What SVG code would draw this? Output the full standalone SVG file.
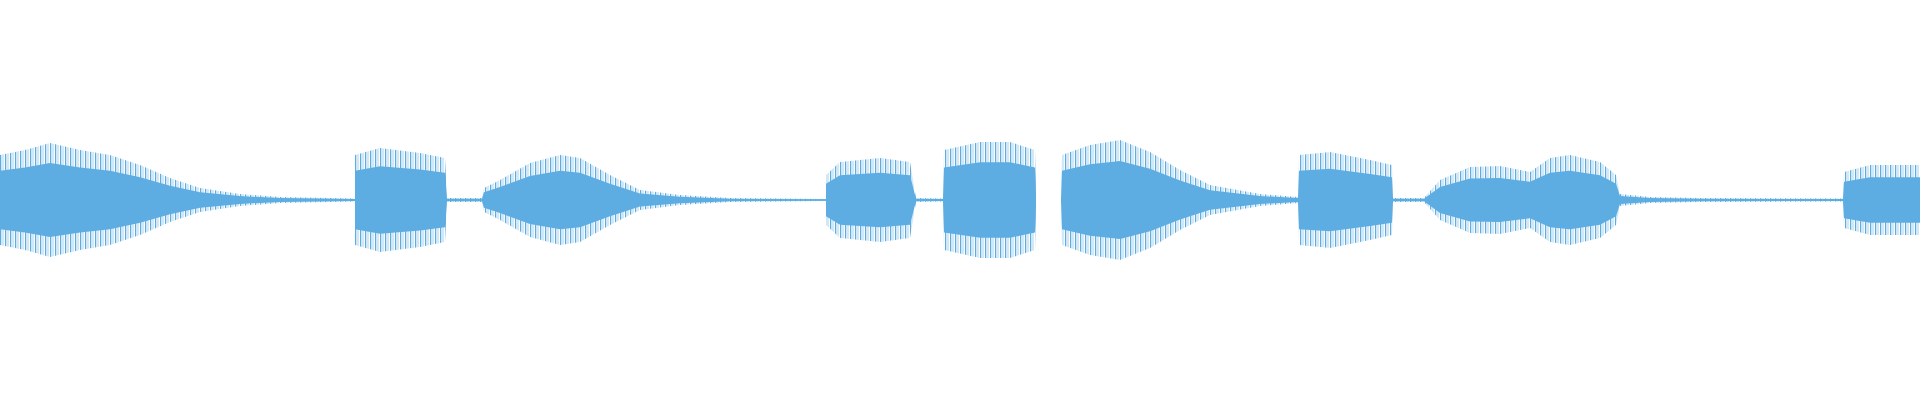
<svg xmlns="http://www.w3.org/2000/svg" xmlns:xlink="http://www.w3.org/1999/xlink" width="1920" height="400" viewBox="0 0 1920 400">
<defs>
<pattern id="stripes" patternUnits="userSpaceOnUse" width="5" height="400">
<rect x="0" y="0" width="1.3" height="400" fill="#5dade2"/>
<rect x="2.6" y="0" width="0.8" height="400" fill="#5dade2" opacity="0.7"/>
</pattern>
<path id="env" d="M0,155 L25,150 50,143 80,150 110,155 140,165 170,178 200,188 240,194 280,197 355,198.5 355,155 380,148 420,153 445,158 447,198 482,198 484,188 500,180 530,163 560,155 580,158 610,175 640,190 680,195 730,198 826,199 826,175 840,162 880,158 910,162 916,198 943,198.5 944,150 980,142 1010,142 1035,150 1036,200 1061,200 1062,155 1090,145 1120,140 1150,152 1180,170 1210,185 1260,194 1298,197 1299,155 1330,152 1370,160 1392,165 1393,198 1424,198 1440,180 1470,167 1500,166 1520,170 1530,172 1550,158 1570,155 1600,162 1616,175 1620,194 1650,197 1700,198 1843,198.5 1844,172 1870,165 1920,165 L1920,235 1870,235 1844,228 1843,201.5 1700,202 1650,203 1620,206 1616,225 1600,238 1570,245 1550,242 1530,228 1520,230 1500,234 1470,233 1440,220 1424,202 1393,202 1392,235 1370,240 1330,248 1299,245 1298,203 1260,206 1210,215 1180,230 1150,248 1120,260 1090,255 1062,245 1061,200 1036,200 1035,250 1010,258 980,258 944,250 943,201.5 916,202 910,238 880,242 840,238 826,225 826,201 730,202 680,205 640,210 610,225 580,242 560,245 530,237 500,220 484,212 482,202 447,202 445,242 420,247 380,252 355,245 355,201.5 280,203 240,206 200,212 170,222 140,235 110,245 80,250 50,257 25,250 0,245 Z"/>
</defs>
<rect width="1920" height="400" fill="#ffffff"/>
<g id="waveform">
<use xlink:href="#env" fill="url(#stripes)"/>
<use xlink:href="#env" fill="#5dade2" transform="translate(0,70) scale(1,0.65)"/>
<line x1="0" y1="200" x2="1036" y2="200" stroke="#5dade2" stroke-width="1.2"/>
<line x1="1061" y1="200" x2="1920" y2="200" stroke="#5dade2" stroke-width="1.2"/>
</g>
</svg>
